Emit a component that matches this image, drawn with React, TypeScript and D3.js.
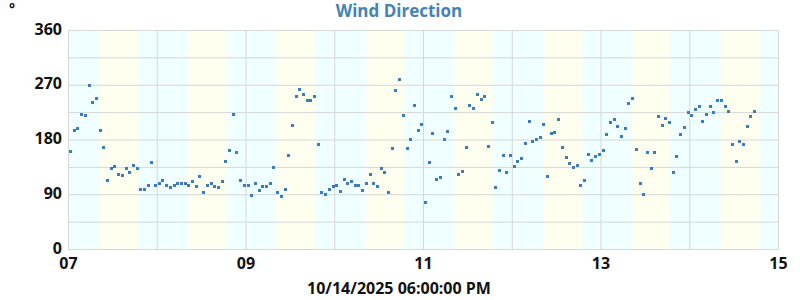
import React from "react";
import * as d3 from "d3";

// Hourly wind direction readings (degrees), one array per day, starting 00:33
const day07 = [161, 195, 199, 222, 220, 270, 242, 248, 195, 167, 113, 133, 136, 123, 121, 133, 126, 138, 133, 98, 98, 105, 143, 105];
const day08 = [108, 113, 105, 102, 105, 108, 108, 108, 106, 111, 103, 120, 93, 105, 108, 103, 102, 111, 144, 162, 222, 159, 113, 106];
const day09 = [106, 88, 108, 97, 103, 103, 108, 134, 93, 87, 98, 154, 204, 251, 263, 255, 245, 245, 251, 172, 93, 90, 98, 103];
const day10 = [105, 95, 115, 108, 111, 106, 106, 97, 108, 123, 108, 103, 133, 126, 93, 166, 261, 279, 220, 166, 181, 237, 195, 205];
const day11 = [78, 143, 190, 115, 118, 181, 194, 251, 232, 123, 128, 167, 237, 232, 255, 246, 251, 169, 209, 102, 130, 154, 126, 154];
const day12 = [136, 144, 149, 174, 210, 177, 181, 184, 205, 120, 190, 192, 214, 167, 151, 141, 134, 138, 106, 113, 156, 146, 153, 156];
const day13 = [162, 189, 209, 214, 202, 186, 199, 240, 248, 164, 108, 90, 159, 133, 159, 218, 204, 215, 209, 126, 153, 189, 200, 225];
const day14 = [220, 230, 235, 210, 222, 235, 225, 245, 245, 235, 227, 172, 144, 177, 172, 202, 218, 227];

const days = ["2025-10-07", "2025-10-08", "2025-10-09", "2025-10-10", "2025-10-11", "2025-10-12", "2025-10-13", "2025-10-14"];
const dailyValues = [day07, day08, day09, day10, day11, day12, day13, day14];
const firstReadingMinute = 33;

// daylight (ivory) period per day, in hours
const sunriseHour = [8.05, 8.1, 8.1, 8.15, 8.05, 8.1, 8.1, 8.15];
const sunsetHour = [19.0, 19.05, 19.0, 19.05, 19.05, 19.1, 19.0, 19.05];

const yTicks = [0, 90, 180, 270, 360];
const yGrid = [0, 45, 90, 135, 180, 225, 270, 315, 360];
const xTickDays = ["07", "09", "11", "13", "15"];

const title = "Wind Direction";
const unitLabel = "°";
const xTitle = "10/14/2025 06:00:00 PM";

const parse = d3.timeParse("%Y-%m-%d %H:%M");

export default function App() {
  const W = 800, H = 300;
  const left = 68.5, right = 778.5, top = 30.5, bottom = 249.5;
  const start = parse("2025-10-07 00:00")!;
  const end = parse("2025-10-15 00:00")!;
  const x = d3.scaleTime().domain([start, end]).range([left, right]);
  const y = d3.scaleLinear().domain([0, 360]).range([bottom, top]);

  const points: { t: Date; v: number }[] = [];
  dailyValues.forEach((arr, di) => {
    const base = parse(days[di] + " 00:00")!;
    arr.forEach((v, h) => {
      points.push({ t: d3.timeMinute.offset(base, h * 60 + firstReadingMinute), v });
    });
  });

  const dayTicks = d3.timeDay.range(start, d3.timeDay.offset(end, 1));
  const font = "'Open Sans', 'Liberation Sans', sans-serif";
  const gridColor = "#d6d6d6";
  const night = "#f0ffff";
  const dayC = "#fffff0";

  return (
    <svg width={W} height={H} style={{ position: "absolute", left: 0, top: 0 }}>
      <defs>
        <linearGradient id="dayGrad" x1="0" x2="1" y1="0" y2="0">
          <stop offset="0%" stopColor={night} />
          <stop offset="5%" stopColor={dayC} />
          <stop offset="95%" stopColor={dayC} />
          <stop offset="100%" stopColor={night} />
        </linearGradient>
      </defs>
      <rect x={left} y={top} width={right - left} height={bottom - top} fill={night} />
      {days.map((d, i) => {
        const base = parse(d + " 00:00")!;
        const x0 = x(d3.timeMinute.offset(base, sunriseHour[i] * 60));
        const x1 = x(d3.timeMinute.offset(base, sunsetHour[i] * 60));
        return <rect key={d} x={x0} y={top} width={x1 - x0} height={bottom - top} fill="url(#dayGrad)" />;
      })}
      {yGrid.map((g) => (
        <line key={"h" + g} x1={left} x2={right} y1={y(g)} y2={y(g)} stroke={gridColor} strokeWidth={1} />
      ))}
      {dayTicks.map((d, i) => (
        <line key={"v" + i} x1={x(d)} x2={x(d)} y1={top} y2={bottom} stroke={gridColor} strokeWidth={1} />
      ))}
      {points.map((p, i) => {
        const cx = x(p.t), cy = y(p.v);
        return <rect key={i} x={Math.round(cx - 1.5)} y={Math.round(cy - 1.5)} width={3} height={3} fill="#3b7cba" />;
      })}
      {yTicks.map((t) => (
        <text key={"yt" + t} x={62} y={y(t) + 4} textAnchor="end" fontFamily={font} fontWeight="bold" fontSize={16} fill="#111">
          {t}
        </text>
      ))}
      {xTickDays.map((dd) => {
        const d = parse("2025-10-" + dd + " 00:00")!;
        return (
          <text key={"xt" + dd} x={x(d)} y={269} textAnchor="middle" fontFamily={font} fontWeight="bold" fontSize={16} fill="#111">
            {dd}
          </text>
        );
      })}
      <text x={399} y={17} textAnchor="middle" fontFamily={font} fontWeight="bold" fontSize={17} fill="#4682b4">
        {title}
      </text>
      <text x={9} y={13.5} fontFamily={font} fontWeight="bold" fontSize={14} fill="#111">
        {unitLabel}
      </text>
      <text x={399} y={294} textAnchor="middle" fontFamily={font} fontWeight="bold" fontSize={16} fill="#111">
        {xTitle}
      </text>
    </svg>
  );
}
